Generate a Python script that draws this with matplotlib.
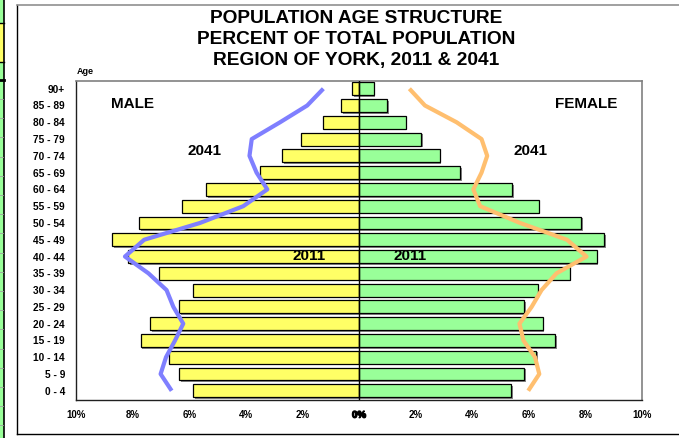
import matplotlib
matplotlib.use('Agg')
import matplotlib.pyplot as plt
import matplotlib.patheffects as pe
from matplotlib.patches import Rectangle
from matplotlib.lines import Line2D
import numpy as np

plt.rcParams['font.family'] = ['Liberation Sans', 'DejaVu Sans']

# ---------------- data (bottom row first) ----------------
age_groups = ['0 - 4', '5 - 9', '10 - 14', '15 - 19', '20 - 24', '25 - 29',
              '30 - 34', '35 - 39', '40 - 44', '45 - 49', '50 - 54', '55 - 59',
              '60 - 64', '65 - 69', '70 - 74', '75 - 79', '80 - 84', '85 - 89', '90+']
male_2011 = [5.85, 6.35, 6.71, 7.71, 7.37, 6.35, 5.87, 7.08, 8.15, 8.72,
             7.76, 6.24, 5.40, 3.49, 2.71, 2.04, 1.27, 0.64, 0.24]
female_2011 = [5.38, 5.83, 6.25, 6.94, 6.49, 5.84, 6.31, 7.44, 8.40, 8.67,
               7.86, 6.35, 5.41, 3.58, 2.85, 2.19, 1.65, 1.00, 0.52]
male_2041 = [6.62, 7.01, 6.82, 6.50, 6.21, 6.56, 6.80, 7.44, 8.27, 7.59,
             5.62, 4.09, 3.24, 3.62, 3.87, 3.79, 2.79, 1.83, 1.26]
female_2041 = [5.98, 6.37, 6.22, 5.81, 5.67, 6.10, 6.45, 6.98, 8.04, 7.35,
               5.69, 4.28, 4.04, 4.33, 4.53, 4.33, 3.45, 2.33, 1.78]
x_ticks = [-10, -8, -6, -4, -2, 0, 2, 4, 6, 8, 10]
x_tick_labels = ['10%', '8%', '6%', '4%', '2%', '0%', '2%', '4%', '6%', '8%', '10%']
title_lines = ['POPULATION AGE STRUCTURE', 'PERCENT OF TOTAL POPULATION',
               'REGION OF YORK, 2011 & 2041']

# ---------------- figure ----------------
W, H = 679, 438
fig = plt.figure(figsize=(W / 100, H / 100), dpi=100)
fig.patch.set_facecolor('white')

def fx(px):
    return px / W

def fy(py):
    return 1 - py / H

# left spreadsheet strip
fig.patches.append(Rectangle((0, 0), fx(3.5), 1, transform=fig.transFigure,
                             facecolor='#99ff99', edgecolor='none', zorder=0))
fig.patches.append(Rectangle((0, fy(62)), fx(3.5), fy(23) - fy(62),
                             transform=fig.transFigure, facecolor='#ffff66',
                             edgecolor='none', zorder=0))
fig.lines.append(Line2D([fx(4), fx(4)], [0, 1], transform=fig.transFigure,
                        color='black', lw=1.2))
for yy, lw in [(23, 1.0), (62, 1.0), (79.5, 2.0)]:
    fig.lines.append(Line2D([0, fx(4)], [fy(yy), fy(yy)], transform=fig.transFigure,
                            color='black', lw=lw))
for yy in np.arange(99, 438, 19.2):
    fig.lines.append(Line2D([0, fx(3)], [fy(yy), fy(yy)], transform=fig.transFigure,
                            color='#a0a0a0', lw=0.6))

# outer chart frame
fig.lines.append(Line2D([fx(16.5), fx(16.5)], [fy(4.5), fy(433.5)],
                        transform=fig.transFigure, color='black', lw=1.0))
fig.lines.append(Line2D([fx(16.5), 1], [fy(4.5), fy(4.5)],
                        transform=fig.transFigure, color='#909090', lw=1.2))
fig.lines.append(Line2D([fx(16.5), 1], [fy(433.5), fy(433.5)],
                        transform=fig.transFigure, color='black', lw=1.0))

# ---------------- axes ----------------
ax = fig.add_axes([fx(76), fy(400), (642 - 76) / W, (400 - 81) / H])
y = np.arange(len(age_groups))
shadow = [pe.SimplePatchShadow(offset=(1.2, -1.2), shadow_rgbFace='#7a7a7a', alpha=0.9),
          pe.Normal()]
ax.barh(y, [-v for v in male_2011], height=0.77, color='#ffff66',
        edgecolor='black', linewidth=0.9, path_effects=shadow, zorder=2)
ax.barh(y, female_2011, height=0.77, color='#99ff99',
        edgecolor='black', linewidth=0.9, path_effects=shadow, zorder=2)
ax.plot([-v for v in male_2041], y, color='#7f7fff', lw=3.0, zorder=4,
        solid_joinstyle='round', solid_capstyle='butt')
ax.plot(female_2041, y, color='#ffbf6f', lw=3.0, zorder=4,
        solid_joinstyle='round', solid_capstyle='butt')
ax.axvline(0, color='black', lw=1.0, zorder=3)

ax.set_xlim(-10, 10)
ax.set_ylim(-0.55, 18.46)
ax.set_yticks(y)
ax.set_yticklabels(age_groups, fontsize=7.3, fontweight='bold')
ax.set_xticks(x_ticks)
ax.set_xticklabels(x_tick_labels, fontsize=7, fontweight='bold')
ax.tick_params(axis='y', length=0, pad=8)
ax.tick_params(axis='x', length=0, pad=7)
for side in ['left', 'bottom']:
    ax.spines[side].set_color('#202020')
    ax.spines[side].set_linewidth(1.0)
for side in ['top', 'right']:
    ax.spines[side].set_color('#808080')
    ax.spines[side].set_linewidth(1.2)

# centre "0%" looks heavier in the original (two labels drawn on top of each other)
for lbl in ax.get_xticklabels():
    if lbl.get_text() == '0%':
        lbl.set_path_effects([pe.withStroke(linewidth=0.9, foreground='black')])

# ---------------- texts ----------------
for i, line in enumerate(title_lines):
    fig.text(fx(356), fy(18.5 + 21 * i), line, fontsize=13.8, fontweight='bold',
             ha='center', va='center')
fig.text(fx(77), fy(71.5), 'Age', fontsize=6.5, fontweight='bold',
         ha='left', va='center')
fig.text(fx(132), fy(104.5), 'MALE', fontsize=11, fontweight='bold',
         ha='center', va='center')
fig.text(fx(586.5), fy(104.5), 'FEMALE', fontsize=11, fontweight='bold',
         ha='center', va='center')
fig.text(fx(204.5), fy(151), '2041', fontsize=11, fontweight='bold',
         ha='center', va='center')
fig.text(fx(530.5), fy(150.5), '2041', fontsize=11, fontweight='bold',
         ha='center', va='center')
fig.text(fx(309), fy(256.5), '2011', fontsize=11, fontweight='bold',
         ha='center', va='center', zorder=10)
fig.text(fx(410), fy(256.5), '2011', fontsize=11, fontweight='bold',
         ha='center', va='center', zorder=10)

fig.savefig('out.png', dpi=100)
